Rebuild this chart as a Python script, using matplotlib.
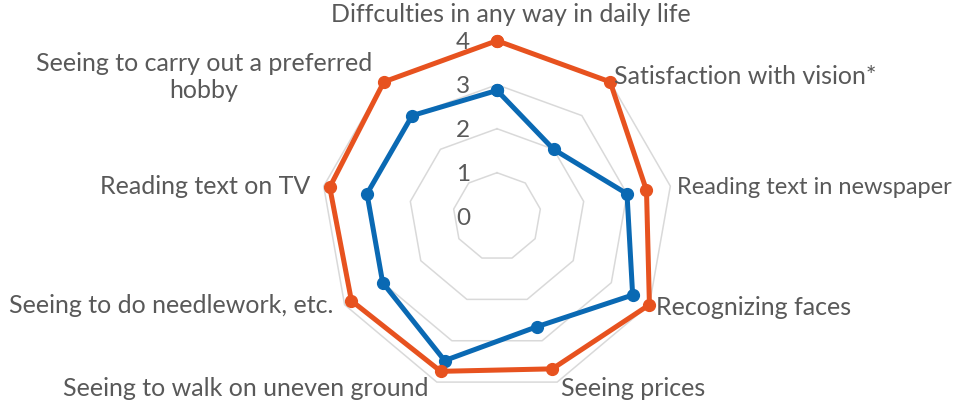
import numpy as np
import matplotlib
matplotlib.use("Agg")
import matplotlib.pyplot as plt

categories = [
    "Diffculties in any way in daily life",
    "Satisfaction with vision*",
    "Reading text in newspaper",
    "Recognizing faces",
    "Seeing prices",
    "Seeing to walk on uneven ground",
    "Seeing to do needlework, etc.",
    "Reading text on TV",
    "Seeing to carry out a preferred\nhobby",
]
series_orange = [4.0, 4.0, 3.45, 4.0, 3.68, 3.74, 3.82, 3.86, 4.0]
series_blue = [2.87, 2.0, 3.0, 3.56, 2.66, 3.48, 3.0, 3.0, 3.0]
tick_values = [0, 1, 2, 3, 4]

plt.rcParams['font.family'] = ['Lato', 'DejaVu Sans']
TEXT = '#595959'
GRID = '#D9D9D9'
ORANGE = '#E7521F'
BLUE = '#0A69B3'

fig = plt.figure(figsize=(9.66, 4.04), dpi=100)
cx, cy, R = 497, 404 - 216.7, 176
ax = fig.add_axes([(cx - R) / 966, (cy - R) / 404, 2 * R / 966, 2 * R / 404], projection='polar')
ax.set_theta_zero_location('N')
ax.set_theta_direction(-1)
ax.set_ylim(0, 4)
ax.grid(False)
ax.set_xticks([])
ax.set_yticks([])
ax.spines['polar'].set_visible(False)
ax.patch.set_visible(False)

n = len(categories)
theta = np.linspace(0, 2 * np.pi, n, endpoint=False)
theta_c = np.append(theta, theta[0])

for v in tick_values[1:]:
    ax.plot(theta_c, [v] * (n + 1), color=GRID, lw=1.1, zorder=1, clip_on=False)

for vals, col in [(series_blue, BLUE), (series_orange, ORANGE)]:
    vv = list(vals) + [vals[0]]
    ax.plot(theta_c, vv, color=col, lw=3.6, marker='o', markersize=8.5,
            zorder=3, clip_on=False, solid_joinstyle='round')

for v in tick_values:
    ax.annotate(str(v), xy=(0, v), xytext=(-27, -2), textcoords='offset pixels',
                ha='right', va='center', fontsize=17.5, color=TEXT, zorder=2)

label_offsets = [(14, 26), (4, 5), (7, -1), (7, -3), (4, -6), (-8, -6), (-11, -1), (-13, 0), (-12, 5)]
label_ha = ['center', 'left', 'left', 'left', 'left', 'right', 'right', 'right', 'right']
label_size = [18, 18, 17, 18, 18, 18, 18, 18, 18]
for t, lab, off, ha, fs in zip(theta, categories, label_offsets, label_ha, label_size):
    ax.annotate(lab, xy=(t, 4), xytext=off, textcoords='offset pixels',
                ha=ha, va='center', fontsize=fs, color=TEXT, multialignment='center',
                linespacing=1.2, annotation_clip=False)

fig.savefig('out.png', dpi=100)
